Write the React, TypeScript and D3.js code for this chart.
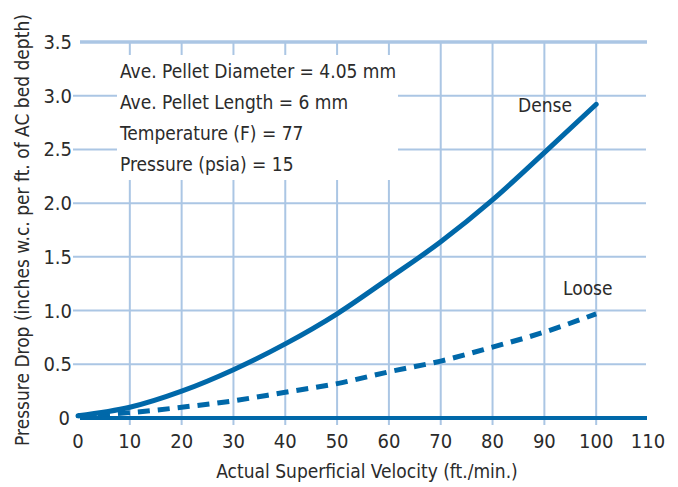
import { scaleLinear, line, curveMonotoneX } from "d3";

const velocity = [0, 10, 20, 30, 40, 50, 60, 70, 80, 90, 100];
const dense = [0.02, 0.1, 0.25, 0.45, 0.69, 0.97, 1.3, 1.64, 2.03, 2.47, 2.92];
const loose = [0.02, 0.05, 0.1, 0.16, 0.24, 0.32, 0.43, 0.53, 0.66, 0.8, 0.97];

const xTicks = [0, 10, 20, 30, 40, 50, 60, 70, 80, 90, 100, 110];
const yTicks = [0, 0.5, 1.0, 1.5, 2.0, 2.5, 3.0, 3.5];
const yTickLabels = ["0", "0.5", "1.0", "1.5", "2.0", "2.5", "3.0", "3.5"];

const notes = [
  "Ave. Pellet Diameter = 4.05 mm",
  "Ave. Pellet Length = 6 mm",
  "Temperature (F) = 77",
  "Pressure (psia) = 15",
];

const width = 678;
const height = 487;
const blue = "#0068a9";
const grid = "#abc6e4";
const ink = "#2b2b2b";
const font = "'Liberation Sans Narrow', 'DejaVu Sans Condensed', sans-serif";

const x = scaleLinear().domain([0, 110]).range([78, 648]);
const y = scaleLinear().domain([0, 3.5]).range([418, 42]);

export default function App() {
  const mk = line<number>()
    .x((_, i) => x(velocity[i]))
    .y((d) => y(d))
    .curve(curveMonotoneX);

  return (
    <svg
      width={width}
      height={height}
      style={{ position: "absolute", left: 0, top: 0, background: "#fff" }}
      fontFamily={font}
    >
      {/* grid */}
      {yTicks.slice(1, -1).map((t) => (
        <line key={"h" + t} x1={73} x2={646} y1={y(t)} y2={y(t)} stroke={grid} strokeWidth={2} />
      ))}
      {xTicks.slice(1, -1).map((t) => (
        <line key={"v" + t} x1={x(t)} x2={x(t)} y1={y(3.5)} y2={425} stroke={grid} strokeWidth={2} />
      ))}
      <line x1={80} x2={647} y1={y(3.5)} y2={y(3.5)} stroke={grid} strokeWidth={3.5} />

      {/* notes box */}
      <rect x={117} y={55} width={281} height={125} fill="#fff" />
      {notes.map((n, i) => (
        <text key={n} x={120} y={78 + i * 31} fontSize={19} fill={ink}>
          {n}
        </text>
      ))}

      {/* zero axis */}
      <line x1={80} x2={647} y1={y(0)} y2={y(0)} stroke={blue} strokeWidth={4} />

      {/* curves */}
      <path d={mk(loose) ?? ""} fill="none" stroke={blue} strokeWidth={5} strokeDasharray="12 8" />
      <path d={mk(dense) ?? ""} fill="none" stroke={blue} strokeWidth={5} strokeLinecap="round" />

      <text x={518} y={112} fontSize={19} fill={ink}>Dense</text>
      <text x={563} y={295} fontSize={19} fill={ink}>Loose</text>

      {/* y tick labels */}
      {yTicks.map((t, i) => (
        <text
          key={"yl" + t}
          x={t === 0 ? 70 : 72}
          y={y(t)}
          dy="0.35em"
          textAnchor="end"
          fontSize={20}
          fill={ink}
        >
          {yTickLabels[i]}
        </text>
      ))}

      {/* x tick labels */}
      {xTicks.map((t) => (
        <text key={"xl" + t} x={x(t)} y={448} textAnchor="middle" fontSize={20} fill={ink}>
          {t}
        </text>
      ))}

      <text x={367} y={478} textAnchor="middle" fontSize={19} fill={ink}>
        Actual Superficial Velocity (ft./min.)
      </text>
      <text
        transform={`translate(29, 230) rotate(-90)`}
        textAnchor="middle"
        fontSize={19}
        fill={ink}
      >
        Pressure Drop (inches w.c. per ft. of AC bed depth)
      </text>
    </svg>
  );
}
